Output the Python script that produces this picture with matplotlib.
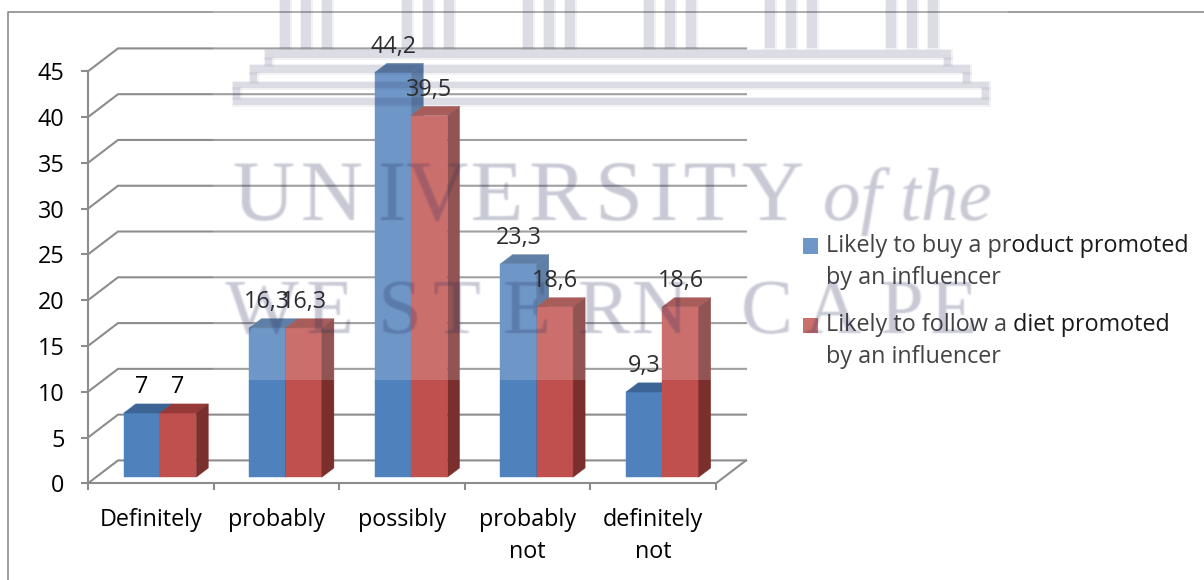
# grouped pseudo-3D column chart: influencer promoted products vs diets

import matplotlib
matplotlib.use("Agg")
import matplotlib.pyplot as plt
import matplotlib.patheffects as pe
from matplotlib.legend_handler import HandlerPatch
from matplotlib.lines import Line2D
from matplotlib.patches import Patch, Polygon, Rectangle
from matplotlib.transforms import Affine2D

plt.rcParams['font.family'] = ['Open Sans', 'DejaVu Sans']

categories = ["Definitely", "probably", "possibly", "probably\nnot", "definitely\nnot"]
buy_values = [7, 16.3, 44.2, 23.3, 9.3]
diet_values = [7, 16.3, 39.5, 18.6, 18.6]
buy_text = ["7", "16,3", "44,2", "23,3", "9,3"]
diet_text = ["7", "16,3", "39,5", "18,6", "18,6"]
y_ticks = [0, 5, 10, 15, 20, 25, 30, 35, 40, 45]
series_names = ["Likely to buy a product promoted\nby an influencer",
                "Likely to follow a diet promoted\nby an influencer"]

# watermark letters: (letter, centre x, baseline y) in pixels
line1_letters = [("U", 264, 220), ("N", 332, 220), ("I", 392, 220), ("V", 437, 220), ("E", 497, 220),
                 ("R", 558, 220), ("S", 619, 220), ("I", 664, 220), ("T", 710, 220), ("Y", 773, 220)]
line2_letters = [("W", 262, 333), ("E", 330, 333), ("S", 400, 333), ("T", 457, 333), ("E", 527, 333),
                 ("R", 604, 333), ("N", 660, 333), ("C", 767, 333), ("A", 833, 333), ("P", 902, 333),
                 ("E", 954, 333)]
column_starts = [280, 402, 523, 644, 765, 886]
step_rects = [(265, 50, 686, 8), (265, 58, 7, 7), (944, 58, 7, 7),
              (250, 65, 720, 8), (250, 73, 7, 9), (963, 73, 7, 9),
              (233, 82, 756, 6), (233, 88, 7, 10), (982, 88, 7, 10),
              (233, 98, 756, 7)]

GRID = "#8c8c8c"
BLUE, BLUE_TOP, BLUE_SIDE = "#4f81bd", "#3c6494", "#3c6494"
RED, RED_TOP, RED_SIDE = "#c0504d", "#953a38", "#7b2f2d"
INK = "#2a2f5c"
FONT_SIZE = 16.8

WALL_DX, WALL_DY = 0.239, 2.5   # shift of the back wall
BAR_DX, BAR_DY = 0.096, 1.0     # depth of the columns
BAR_BASE = 0.67
BAR_W = 0.289
BAR_X0 = 0.284

W, H = 1204, 580
fig = plt.figure(figsize=(W / 100, H / 100), dpi=100)

ax = fig.add_axes([88 / W, (H - 483.3) / H, 628 / W, 412 / H], zorder=1)
ax.patch.set_visible(False)
ax.set_xlim(0, 5)
ax.set_ylim(0, 45)

for spine in ["top", "right"]:
    ax.spines[spine].set_visible(False)
for spine in ["left", "bottom"]:
    ax.spines[spine].set_color(GRID)
    ax.spines[spine].set_linewidth(1.5)

ax.set_yticks(y_ticks)
ax.tick_params(axis="y", length=5, width=1.5, color=GRID, labelsize=FONT_SIZE, pad=12)
ax.set_xticks(range(6))
ax.set_xticklabels([])
ax.tick_params(axis="x", which="major", length=5, width=1.5, color=GRID)
ax.set_xticks([i + 0.5 for i in range(5)], minor=True)
ax.set_xticklabels(categories, minor=True, fontsize=FONT_SIZE, linespacing=1.48)
ax.tick_params(axis="x", which="minor", length=0, pad=17.5)

# back wall gridlines
for v in y_ticks:
    ax.plot([0, WALL_DX, 5 + WALL_DX], [v, v + WALL_DY, v + WALL_DY], color=GRID, lw=1.5,
            clip_on=False, zorder=1, solid_joinstyle="miter")
ax.plot([5, 5 + WALL_DX], [0, WALL_DY], color=GRID, lw=1.5, clip_on=False, zorder=1)


def draw_column(x, value, front, top, side):
    ax.bar(x, value, BAR_W, bottom=BAR_BASE, align="edge", color=front, edgecolor=front, lw=0.3,
           clip_on=False, zorder=2)
    y1 = BAR_BASE + value
    ax.add_patch(Polygon([(x, y1), (x + BAR_DX, y1 + BAR_DY), (x + BAR_W + BAR_DX, y1 + BAR_DY), (x + BAR_W, y1)],
                         facecolor=top, edgecolor=top, lw=0.3, clip_on=False, zorder=2))
    ax.add_patch(Polygon([(x + BAR_W, BAR_BASE), (x + BAR_W + BAR_DX, BAR_BASE + BAR_DY),
                          (x + BAR_W + BAR_DX, y1 + BAR_DY), (x + BAR_W, y1)],
                         facecolor=side, edgecolor=side, lw=0.3, clip_on=False, zorder=2))


for i in range(5):
    draw_column(i + BAR_X0, buy_values[i], BLUE, BLUE_TOP, BLUE_SIDE)
    draw_column(i + BAR_X0 + BAR_W, diet_values[i], RED, RED_TOP, RED_SIDE)

for i in range(5):
    ax.annotate(buy_text[i], (i + BAR_X0 + BAR_W / 2, BAR_BASE + buy_values[i]), xytext=(0, 18.5),
                textcoords="offset points", ha="center", va="center", fontsize=FONT_SIZE, zorder=3,
                annotation_clip=False)
    ax.annotate(diet_text[i], (i + BAR_X0 + BAR_W * 1.5, BAR_BASE + diet_values[i]), xytext=(0, 18.5),
                textcoords="offset points", ha="center", va="center", fontsize=FONT_SIZE, zorder=3,
                annotation_clip=False)


def first_line_square(legend, orig_handle, xdescent, ydescent, width, height, fontsize):
    # square sits beside the first line of a two line entry
    return Rectangle((-xdescent, -ydescent + 12), width, height)


handles = [Patch(facecolor=BLUE), Patch(facecolor=RED)]
leg = ax.legend(handles, series_names, loc="upper left", bbox_to_anchor=(803 / W, (H - 233.5) / H),
                bbox_transform=fig.transFigure, frameon=False, fontsize=FONT_SIZE, handlelength=0.64,
                handleheight=0.64, handletextpad=0.34, labelspacing=0.97, borderpad=0, borderaxespad=0,
                labelcolor="#1a1a1a", handler_map={Patch: HandlerPatch(patch_func=first_line_square)})
for t in leg.get_texts():
    t.set_linespacing(1.48)

# outer frame, left and top only
fig.add_artist(Line2D([8 / W, 8 / W, 1], [0, (H - 12) / H, (H - 12) / H], color="#8c8c8c", lw=1.2, zorder=0))

# pixel-space layer on top for the pale band and the watermark
over = fig.add_axes([0, 0, 1, 1], zorder=5)
over.patch.set_visible(False)
over.set_xlim(0, W)
over.set_ylim(H, 0)
over.axis("off")

over.add_patch(Rectangle((213, 0), 795, 380, facecolor="white", edgecolor="none", alpha=0.18))


def soft_rect(x, y, w, h):
    # pale halo round a slightly darker core
    over.add_patch(Rectangle((x - 1.5, y - 1.5), w + 3, h + 3, facecolor=INK, edgecolor="none", alpha=0.06))
    over.add_patch(Rectangle((x, y), w, h, facecolor=INK, edgecolor="none", alpha=0.11))


for x0 in column_starts:
    for off in (0, 21, 42):
        soft_rect(x0 + off, 0, 10, 48)
for x, y, w, h in step_rects:
    soft_rect(x, y, w, h)


class Smear(pe.AbstractPathEffect):
    # repeats the glyph at small offsets so the edges come out soft
    def draw_path(self, renderer, gc, tpath, affine, rgbFace=None):
        for dx, dy in [(-1.3, 0), (1.3, 0), (0, -1.1), (0, 1.1), (0, 0)]:
            renderer.draw_path(gc, tpath, affine + Affine2D().translate(dx, dy), rgbFace)


soft_edge = [Smear()]
for letter, x, y in line1_letters:
    over.text(x, y, letter, family="Liberation Serif", fontsize=62, color=INK, alpha=0.055,
              ha="center", va="baseline", path_effects=soft_edge)
for letter, x, y in line2_letters:
    over.text(x, y, letter, family="Liberation Serif", fontsize=56, color=INK, alpha=0.055,
              ha="center", va="baseline", path_effects=soft_edge)
over.text(823, 220, "of the", family="Liberation Serif", style="italic", fontsize=54, color=INK,
          alpha=0.055, ha="left", va="baseline", path_effects=soft_edge)

fig.savefig("out.png", dpi=100, facecolor="white")
